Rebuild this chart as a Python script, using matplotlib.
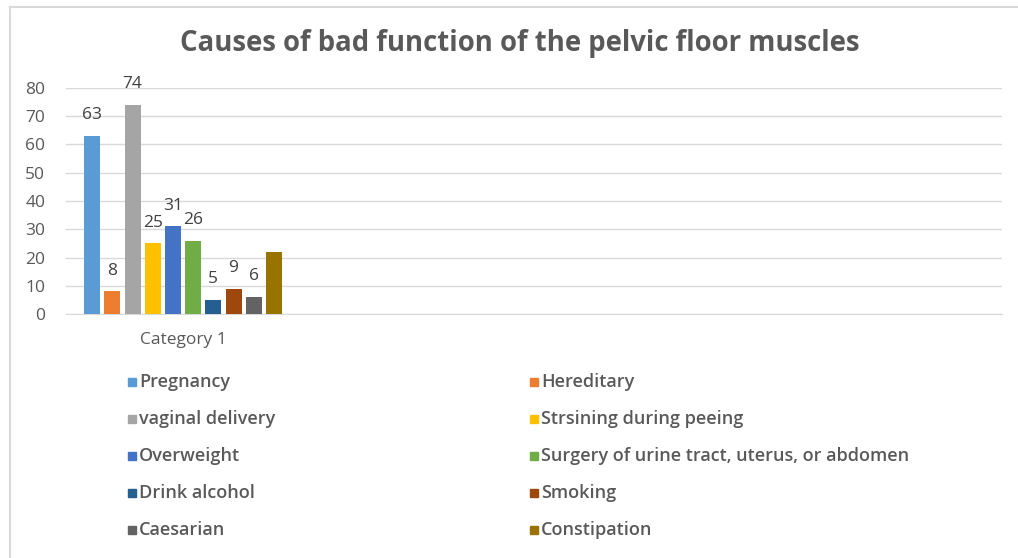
import numpy as np
import matplotlib
matplotlib.use("Agg")
import matplotlib.pyplot as plt
from matplotlib.patches import Rectangle
from matplotlib.lines import Line2D

plt.rcParams['font.family'] = ['Open Sans', 'DejaVu Sans']

title = "Causes of bad function of the pelvic floor muscles"
categories = ["Category 1"]
series = ["Pregnancy", "Hereditary", "vaginal delivery", "Strsining during peeing",
          "Overweight", "Surgery of urine tract, uterus, or abdomen", "Drink alcohol",
          "Smoking", "Caesarian", "Constipation"]
values = [63, 8, 74, 25, 31, 26, 5, 9, 6, 22]
show_label = [True, True, True, True, True, True, True, True, True, False]
colors = ["#5B9BD5", "#ED7D31", "#A5A5A5", "#FFC000", "#4472C4",
          "#70AD47", "#255E91", "#9E480E", "#636363", "#997300"]

W, H = 1018, 558
fig = plt.figure(figsize=(W / 100, H / 100), dpi=100)

# plot area in pixels
left, right, top, bottom = 66, 1002, 88, 314
ax = fig.add_axes([left / W, 1 - bottom / H, (right - left) / W, (bottom - top) / H])

n_slots = 4  # the axis is laid out for four categories, only the first one has data
pitch = 20.2 / ((right - left) / n_slots)
width = 16.0 / ((right - left) / n_slots)
n = len(series)
for i, (name, v, c) in enumerate(zip(series, values, colors)):
    x = 0.5 + (i - (n - 1) / 2) * pitch
    ax.bar(x, v, width=width, color=c, zorder=3)
    if show_label[i]:
        ax.annotate(str(v), (x, v), xytext=(0, 15), textcoords="offset points",
                    ha="center", va="center", fontsize=12.5, color="#404040",
                    annotation_clip=False)

ax.set_xlim(0, n_slots)
ax.set_ylim(0, 80)
ax.set_yticks(np.arange(0, 81, 10))
ax.set_xticks([0.5 + k for k in range(len(categories))])
ax.set_xticklabels(categories)
ax.grid(axis="y", color="#d9d9d9", linewidth=1, zorder=0)
for s in ["top", "right", "left"]:
    ax.spines[s].set_visible(False)
ax.spines["bottom"].set_color("#d9d9d9")
ax.tick_params(axis="both", length=0, labelsize=12.5, labelcolor="#595959")
ax.tick_params(axis="y", pad=15)
ax.tick_params(axis="x", pad=13)

fig.text(520 / W, 1 - 43 / H, title, ha="center", va="center", fontsize=19.8,
         fontweight="bold", color="#595959")

# legend, two columns, row by row
col_x = [128, 530]
row_y = [382, 419, 456, 493, 530]
sq = 8
for i, (name, c) in enumerate(zip(series, colors)):
    px = col_x[i % 2]
    py = row_y[i // 2]
    fig.patches.append(Rectangle((px / W, 1 - (py + sq / 2) / H), sq / W, sq / H,
                                 transform=fig.transFigure, color=c, figure=fig))
    fig.text((px + sq + 3) / W, 1 - py / H, name, ha="left", va="center",
             fontsize=13, fontweight="semibold", color="#595959")

# chart border
fig.lines.append(Line2D([10 / W, 10 / W], [0, 1 - 7 / H], transform=fig.transFigure,
                        color="#d9d9d9", linewidth=1.5))
fig.lines.append(Line2D([10 / W, 1], [1 - 7 / H, 1 - 7 / H], transform=fig.transFigure,
                        color="#d9d9d9", linewidth=1.5))

fig.savefig("out.png", dpi=100)
